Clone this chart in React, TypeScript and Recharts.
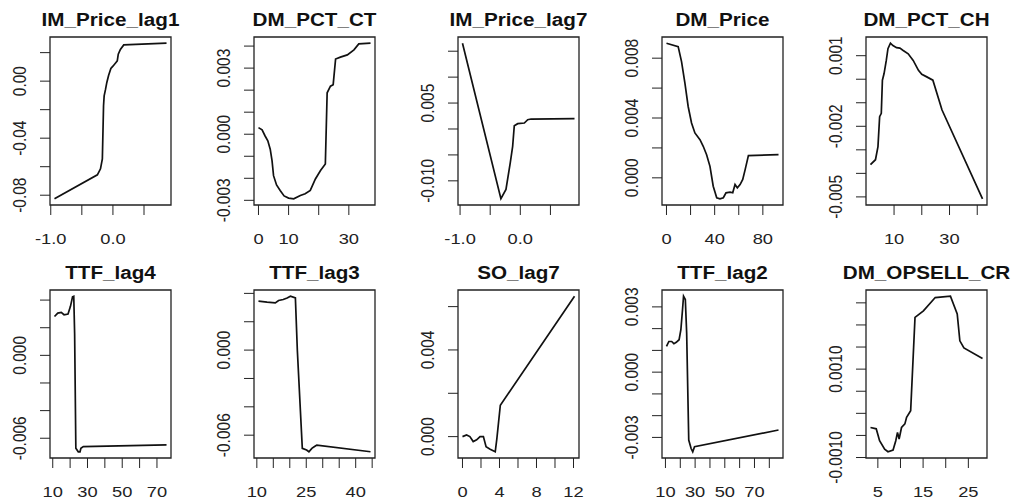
import React from 'react';
import { LineChart, Line, XAxis, YAxis, ReferenceArea } from 'recharts';

// partial dependence curves
const imPriceLag1X = [-0.94, -0.25, -0.2, -0.17, -0.16, -0.151, -0.141, -0.12, -0.098, -0.07, -0.033, 0.0, 0.049, 0.07, 0.086, 0.12, 0.174, 0.862];
const imPriceLag1Y = [-0.0825, -0.0657, -0.0615, -0.0545, -0.035, -0.0173, -0.0103, -0.006, -0.0009, 0.004, 0.0089, 0.0105, 0.0131, 0.0142, 0.0189, 0.0222, 0.0254, 0.0266];

const dmPctCtX = [0, 1.2, 2.2, 3.1, 3.9, 4.5, 5.0, 6.0, 7.2, 8.5, 10.0, 11.7, 13.9, 15.5, 17.2, 18.9, 20.6, 22.2, 22.8, 23.9, 24.8, 25.6, 27.2, 29.5, 31.7, 33.3, 37.2];
const dmPctCtY = [0.0003, 0.0002, -0.00008, -0.0003, -0.00068, -0.0012, -0.00188, -0.0023, -0.00255, -0.0028, -0.0029, -0.00293, -0.00278, -0.0027, -0.00255, -0.00203, -0.00165, -0.00135, 0.00188, 0.00218, 0.00225, 0.00341, 0.0035, 0.0036, 0.00383, 0.0041, 0.00413];

const imPriceLag7X = [-0.96, -0.322, -0.238, -0.167, -0.127, -0.1, -0.043, 0.067, 0.123, 0.178, 0.9];
const imPriceLag7Y = [0.01654, -0.01346, -0.01167, -0.00654, -0.00335, 0.00063, 0.00102, 0.00115, 0.00179, 0.00192, 0.00198];

const dmPriceX = [0, 9.7, 12.5, 15.3, 18, 20.8, 23.6, 27.8, 30.5, 33.3, 36.1, 38.8, 41.7, 44.4, 47.2, 49.4, 52.8, 55, 56.9, 58.8, 61.1, 63.3, 65.3, 68, 93];
const dmPriceY = [0.009, 0.00877, 0.00777, 0.00633, 0.00477, 0.00367, 0.003, 0.00255, 0.00211, 0.00155, 0.00077, -0.00056, -0.00133, -0.0014, -0.00133, -0.001, -0.00096, -0.001, -0.00045, -0.00067, -0.00045, -0.00011, 0.00055, 0.00149, 0.00155];

const dmPctChX = [1.5, 3.3, 4.2, 4.8, 5.4, 5.8, 6.4, 7.2, 7.8, 8.7, 9.6, 10.9, 12.1, 13.3, 15.1, 16.9, 18.8, 20, 21.8, 24, 27.3, 41.9];
const dmPctChY = [-0.00363, -0.00342, -0.00286, -0.00159, -0.00145, -0.00004, 0.00024, 0.0008, 0.0013, 0.00153, 0.00143, 0.00134, 0.00132, 0.00122, 0.00108, 0.0008, 0.00038, 0.00021, 0.0001, -0.00004, -0.00131, -0.00508];

const ttfLag4X = [11, 12.9, 14.9, 16.5, 18.8, 20.2, 21.4, 22.1, 22.6, 23.3, 24.7, 25.7, 26.2, 27.6, 75.5];
const ttfLag4Y = [0.00281, 0.00306, 0.00311, 0.00294, 0.00299, 0.00355, 0.00424, 0.00428, 0.00159, -0.00673, -0.00698, -0.00698, -0.00673, -0.00661, -0.00648];

const ttfLag3X = [10.5, 13.1, 15.6, 16.6, 18, 19.2, 20.2, 21.7, 22.3, 23.8, 25.1, 25.8, 26.7, 27.4, 28.2, 44.5];
const ttfLag3Y = [0.00345, 0.00338, 0.00333, 0.0035, 0.00357, 0.00368, 0.0038, 0.00368, -0.00005, -0.00693, -0.00705, -0.00717, -0.00693, -0.00682, -0.0067, -0.00717];

const soLag7X = [0, 0.44, 0.8, 1.16, 1.53, 1.9, 2.26, 2.55, 2.99, 3.54, 3.72, 4.09, 12.11];
const soLag7Y = [0, 0.00008, 0, -0.00023, -0.00015, 0, 0, -0.00047, -0.00058, -0.0007, -0.00008, 0.00145, 0.00648];

const ttfLag2X = [10.7, 12.3, 14.2, 15.7, 17.3, 19.2, 20.4, 21.5, 22.2, 23.4, 24.3, 25.7, 27.3, 28.4, 29.6, 86.2];
const ttfLag2Y = [0.00118, 0.00141, 0.00141, 0.00131, 0.00137, 0.00149, 0.00195, 0.00287, 0.00349, 0.00334, 0.0018, -0.00312, -0.00351, -0.00366, -0.00343, -0.00266];

const dmOpsellCrX = [3.37, 4.64, 5.38, 6.5, 7.24, 8.36, 8.96, 9.34, 9.7, 10.23, 10.97, 11.35, 12.25, 13.21, 15.07, 17.68, 21.04, 22.54, 23.12, 24.02, 28.13];
const dmOpsellCrY = [-0.00032, -0.00035, -0.00062, -0.00081, -0.00087, -0.00083, -0.00062, -0.00043, -0.00058, -0.00032, -0.00024, -0.00009, 0.00006, 0.00217, 0.00232, 0.00262, 0.00265, 0.00225, 0.00164, 0.00148, 0.00124];

const FONT = '"Liberation Sans", Arial, Helvetica, sans-serif';
const PANEL_W = 204;
const PANEL_H = 251;
const STRETCH = 1.18; // the reference is a bit wider than tall, text included

// R pads the plot region by 4% of the data range on each side
const pad = (v: number[]): [number, number] => {
  const lo = Math.min(...v);
  const hi = Math.max(...v);
  const r = hi - lo;
  return [lo - 0.04 * r, hi + 0.04 * r];
};

const near = (a: number, list: number[]) => list.some((b) => Math.abs(a - b) < 1e-9);

interface PanelProps {
  title: string;
  xs: number[];
  ys: number[];
  xTicks: number[];
  xShow: number[];
  xDigits: number;
  yTicks: number[];
  yShow: number[];
  yDigits: number;
  col: number;
  row: number;
}

const Panel: React.FC<PanelProps> = ({ title, xs, ys, xTicks, xShow, xDigits, yTicks, yShow, yDigits, col, row }) => {
  const data = xs.map((x, i) => ({ x, y: ys[i] }));
  const xd = pad(xs);
  const yd = pad(ys);

  const xTick = (p: any) => {
    const v = p.payload.value;
    if (!near(v, xShow)) return <g />;
    return (
      <text transform={`translate(${p.x}, ${p.y + 29}) scale(${STRETCH}, 1)`} textAnchor="middle" fontSize={15.5} fontFamily={FONT} fill="#222">
        {v.toFixed(xDigits)}
      </text>
    );
  };

  const yTick = (p: any) => {
    const v = p.payload.value;
    if (!near(v, yShow)) return <g />;
    return (
      <text transform={`translate(${p.x - 14}, ${p.y}) scale(${STRETCH}, 1) rotate(-90)`} textAnchor="middle" fontSize={15.5} fontFamily={FONT} fill="#222">
        {v.toFixed(yDigits)}
      </text>
    );
  };

  return (
    <div style={{ position: 'absolute', left: col * PANEL_W, top: row * 253, width: PANEL_W, height: PANEL_H }}>
      <div
        style={{
          position: 'absolute', left: 50, width: 121, top: 10.5, display: 'flex', justifyContent: 'center',
          whiteSpace: 'nowrap', fontFamily: FONT, fontWeight: 'bold', fontSize: 17.5, lineHeight: '19px', color: '#111',
          transform: `scaleX(${STRETCH})`, transformOrigin: '50% 50%',
        }}
      >
        {title}
      </div>
      <LineChart width={PANEL_W} height={PANEL_H} data={data} margin={{ top: 37, right: 33, bottom: 0, left: 0 }}>
        <XAxis
          type="number" dataKey="x" domain={xd} ticks={xTicks} allowDataOverflow interval={0}
          axisLine={false} tickLine={{ stroke: '#222' }} tickSize={10} tickMargin={0} height={46} tick={xTick}
        />
        <YAxis
          type="number" dataKey="y" domain={yd} ticks={yTicks} allowDataOverflow interval={0}
          axisLine={false} tickLine={{ stroke: '#222' }} tickSize={10} tickMargin={0} width={50} tick={yTick}
        />
        <ReferenceArea x1={xd[0]} x2={xd[1]} y1={yd[0]} y2={yd[1]} fill="none" fillOpacity={0} stroke="#222" strokeWidth={1.3} />
        <Line type="linear" dataKey="y" stroke="#111" strokeWidth={1.7} dot={false} isAnimationActive={false} />
      </LineChart>
    </div>
  );
};

export default function App() {
  return (
    <div style={{ position: 'absolute', left: 0, top: 0, width: 1014, height: 502, overflow: 'hidden', background: '#fff' }}>
      <Panel title="IM_Price_lag1" xs={imPriceLag1X} ys={imPriceLag1Y} col={0} row={0}
        xTicks={[-1, -0.5, 0, 0.5]} xShow={[-1, 0]} xDigits={1}
        yTicks={[-0.08, -0.06, -0.04, -0.02, 0, 0.02]} yShow={[-0.08, -0.04, 0]} yDigits={2} />
      <Panel title="DM_PCT_CT" xs={dmPctCtX} ys={dmPctCtY} col={1} row={0}
        xTicks={[0, 10, 20, 30]} xShow={[0, 10, 30]} xDigits={0}
        yTicks={[-0.003, -0.002, -0.001, 0, 0.001, 0.002, 0.003, 0.004]} yShow={[-0.003, 0, 0.003]} yDigits={3} />
      <Panel title="IM_Price_lag7" xs={imPriceLag7X} ys={imPriceLag7Y} col={2} row={0}
        xTicks={[-1, -0.5, 0, 0.5]} xShow={[-1, 0]} xDigits={1}
        yTicks={[-0.01, -0.005, 0, 0.005, 0.01, 0.015]} yShow={[-0.01, 0.005]} yDigits={3} />
      <Panel title="DM_Price" xs={dmPriceX} ys={dmPriceY} col={3} row={0}
        xTicks={[0, 20, 40, 60, 80]} xShow={[0, 40, 80]} xDigits={0}
        yTicks={[0, 0.002, 0.004, 0.006, 0.008]} yShow={[0, 0.004, 0.008]} yDigits={3} />
      <Panel title="DM_PCT_CH" xs={dmPctChX} ys={dmPctChY} col={4} row={0}
        xTicks={[10, 20, 30, 40]} xShow={[10, 30]} xDigits={0}
        yTicks={[-0.005, -0.004, -0.003, -0.002, -0.001, 0, 0.001]} yShow={[-0.005, -0.002, 0.001]} yDigits={3} />
      <Panel title="TTF_lag4" xs={ttfLag4X} ys={ttfLag4Y} col={0} row={1}
        xTicks={[10, 20, 30, 40, 50, 60, 70]} xShow={[10, 30, 50, 70]} xDigits={0}
        yTicks={[-0.006, -0.004, -0.002, 0, 0.002, 0.004]} yShow={[-0.006, 0]} yDigits={3} />
      <Panel title="TTF_lag3" xs={ttfLag3X} ys={ttfLag3Y} col={1} row={1}
        xTicks={[10, 15, 20, 25, 30, 35, 40, 45]} xShow={[10, 25, 40]} xDigits={0}
        yTicks={[-0.006, -0.004, -0.002, 0, 0.002, 0.004]} yShow={[-0.006, 0]} yDigits={3} />
      <Panel title="SO_lag7" xs={soLag7X} ys={soLag7Y} col={2} row={1}
        xTicks={[0, 2, 4, 6, 8, 10, 12]} xShow={[0, 4, 8, 12]} xDigits={0}
        yTicks={[0, 0.002, 0.004, 0.006]} yShow={[0, 0.004]} yDigits={3} />
      <Panel title="TTF_lag2" xs={ttfLag2X} ys={ttfLag2Y} col={3} row={1}
        xTicks={[10, 20, 30, 40, 50, 60, 70, 80]} xShow={[10, 30, 50, 70]} xDigits={0}
        yTicks={[-0.003, -0.002, -0.001, 0, 0.001, 0.002, 0.003]} yShow={[-0.003, 0, 0.003]} yDigits={3} />
      <Panel title="DM_OPSELL_CR" xs={dmOpsellCrX} ys={dmOpsellCrY} col={4} row={1}
        xTicks={[5, 10, 15, 20, 25]} xShow={[5, 15, 25]} xDigits={0}
        yTicks={[-0.001, -0.0005, 0, 0.0005, 0.001, 0.0015, 0.002, 0.0025]} yShow={[-0.001, 0.001]} yDigits={4} />
    </div>
  );
}
